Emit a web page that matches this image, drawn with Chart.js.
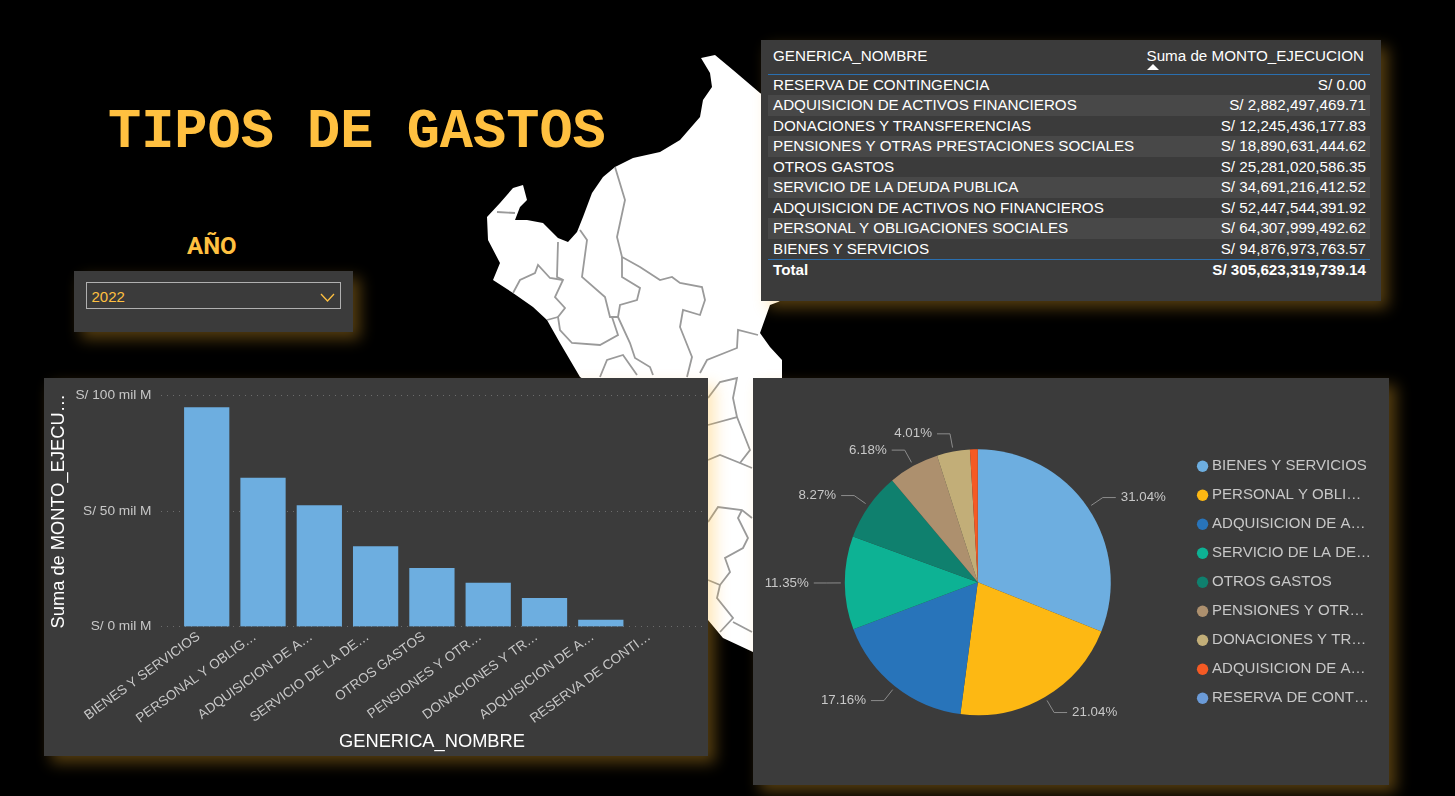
<!DOCTYPE html>
<html>
<head>
<meta charset="utf-8">
<title>Tipos de gastos</title>
<script src="https://cdn.jsdelivr.net/npm/chart.js@4"></script>
<style>
html, body { margin: 0; padding: 0; width: 1455px; height: 796px; overflow: hidden; background: #000; font-family: "Liberation Sans", Arial, sans-serif; }
#map { position: absolute; left: 0; top: 0; filter: blur(0.5px); }
.panel { position: absolute; background: #3b3b3b; box-shadow: 7px 7px 14px rgba(255, 185, 50, 0.33); }
.panel canvas { position: absolute; left: 0; top: 0; }
#barPanel { left: 44px; top: 378px; width: 664px; height: 378px; }
#piePanel { left: 753px; top: 378px; width: 636px; height: 407px; }
#tablePanel { left: 761px; top: 40px; width: 620px; height: 261px; color: #fff; font-size: 15.2px; }
#slicerPanel { left: 74px; top: 271px; width: 279px; height: 61px; }
#title { position: absolute; left: 108px; top: 101px; color: #ffc040; font: bold 55.3px "Liberation Mono", monospace; line-height: 64px; white-space: pre; }
#yearLabel { position: absolute; left: 187px; top: 231px; color: #ffc040; font: bold 24px "Roboto", sans-serif; line-height: 30px; }
#yearBox { position: absolute; left: 11.5px; top: 11px; width: 253px; height: 25px; border: 1.5px solid #b0b0b0; color: #ffc040; font-size: 15px; line-height: 27px; text-indent: 5px; }
#yearBox svg { position: absolute; left: 233px; top: 10px; }
.row { position: absolute; left: 7px; width: 602px; height: 20.5px; line-height: 20.5px; white-space: nowrap; }
.row .name { position: absolute; left: 5px; }
.row .val { position: absolute; right: 4px; }
.striped { background: #484848; }
.rule { position: absolute; left: 7px; width: 602px; height: 1px; background: #2a6fb0; }
</style>
</head>
<body>
<svg id="map" width="1455" height="796">
  <path fill="#fff" d="M701 58 L715 55 L733 70 L760 93 L800 120 L800 290 L778 302 L770 305 L760 333 L770 347 L782 360 L782 420 L753 652 L723 638 L708 620 L690 500 L600 390 L580 377 L560 343 L547 320 L533 307 L513 293 L493 280 L500 263 L488 240 L487 217 L500 203 L513 188 L523 185 L527 200 L520 207 L515 220 L527 220 L543 223 L558 238 L568 242 L577 232 L583 217 L592 193 L603 177 L615 167 L633 158 L660 152 L680 140 L700 117 L703 100 L712 87 L710 73 Z"/>
  <g fill="none" stroke="#9a9a9a" stroke-width="1.8">
    <polyline points="615,167 625,200 617,237 622,257 640,267 660,280 672,277 680,283 702,287 705,300 700,315 683,310 680,327 692,357 687,377"/>
    <polyline points="622,257 622,277 640,288 637,300 620,305 618,317 610,317 605,297 582,277 587,240 580,230"/>
    <polyline points="558,242 557,277 563,280 555,297 565,308 558,317 560,330 572,343 600,345 618,335 612,317"/>
    <polyline points="513,293 520,280 535,273 538,265 550,278 563,280"/>
    <polyline points="547,320 558,317"/>
    <polyline points="618,317 630,343 635,358 650,367 653,375"/>
    <polyline points="600,377 607,360 623,355 637,375"/>
    <polyline points="700,373 707,360 737,348 738,330 758,335"/>
    <polyline points="497,212 515,213"/>
    <polyline points="708,398 720,382 737,378 733,398 737,417 708,425"/>
    <polyline points="737,417 750,450 740,463 720,455 708,460"/>
    <polyline points="740,463 752,468"/>
    <polyline points="708,522 718,507 742,510 752,518"/>
    <polyline points="742,510 738,518 748,538 743,548 725,558 730,572 720,585 708,580"/>
    <polyline points="720,585 717,598 733,618 720,632"/>
    <polyline points="733,622 752,632"/>
  </g>
</svg>

<div id="title">TIPOS DE GASTOS</div>
<div id="yearLabel">AÑO</div>

<div class="panel" id="slicerPanel">
  <div id="yearBox">2022
    <svg width="15" height="9"><polyline points="1,1 7.5,8 14,1" fill="none" stroke="#ffc040" stroke-width="1.3"/></svg>
  </div>
</div>

<div class="panel" id="tablePanel"></div>
<div class="panel" id="barPanel"><canvas id="barChart" width="664" height="378"></canvas></div>
<div class="panel" id="piePanel"><canvas id="pieChart" width="636" height="407"></canvas></div>

<script>
const categories = ['BIENES Y SERVICIOS', 'PERSONAL Y OBLIGACIONES SOCIALES', 'ADQUISICION DE ACTIVOS NO FINANCIEROS', 'SERVICIO DE LA DEUDA PUBLICA', 'OTROS GASTOS', 'PENSIONES Y OTRAS PRESTACIONES SOCIALES', 'DONACIONES Y TRANSFERENCIAS', 'ADQUISICION DE ACTIVOS FINANCIEROS', 'RESERVA DE CONTINGENCIA'];
const amounts = [94876973763.57, 64307999492.62, 52447544391.92, 34691216412.52, 25281020586.35, 18890631444.62, 12245436177.83, 2882497469.71, 0];
const barTickLabels = ['BIENES Y SERVICIOS', 'PERSONAL Y OBLIG…', 'ADQUISICION DE A…', 'SERVICIO DE LA DE…', 'OTROS GASTOS', 'PENSIONES Y OTR…', 'DONACIONES Y TR…', 'ADQUISICION DE A…', 'RESERVA DE CONTI…'];
const legendLabels = ['BIENES Y SERVICIOS', 'PERSONAL Y OBLI…', 'ADQUISICION DE A…', 'SERVICIO DE LA DE…', 'OTROS GASTOS', 'PENSIONES Y OTR…', 'DONACIONES Y TR…', 'ADQUISICION DE A…', 'RESERVA DE CONT…'];
const sliceColors = ['#6daee0', '#fdb813', '#2874ba', '#0db294', '#0f806e', '#ad906e', '#c2ae78', '#f55a24', '#6b9bd8'];
const barColor = '#6daee0';
const yTicks = [0, 50e9, 100e9];
const yTickLabels = ['S/ 0 mil M', 'S/ 50 mil M', 'S/ 100 mil M'];

const labelColor = '#c8c8c8';
const total = amounts.reduce((a, b) => a + b, 0);

function money(v) {
	return 'S/ ' + v.toLocaleString('en-US', { minimumFractionDigits: 2, maximumFractionDigits: 2 });
}

// table, smallest amount first like the report
function buildTable() {
	const panel = document.getElementById('tablePanel');
	let html = '<div class="row" style="top:5px;height:22px;line-height:22px"><span class="name">GENERICA_NOMBRE</span>'
		+ '<span class="val" style="right:6px">Suma de MONTO_EJECUCION</span></div>'
		+ '<svg style="position:absolute;left:386px;top:24px" width="12" height="7"><polygon points="0,6 6,0 12,6" fill="#fff"/></svg>'
		+ '<div class="rule" style="top:34px"></div>';
	for (let i = 0; i < categories.length; i++) {
		const k = categories.length - 1 - i;
		const top = 35 + i * 20.45;
		html += '<div class="row' + (i % 2 ? ' striped' : '') + '" style="top:' + top + 'px"><span class="name">' + categories[k] + '</span><span class="val">' + money(amounts[k]) + '</span></div>';
	}
	html += '<div class="rule" style="top:219px"></div>';
	html += '<div class="row" style="top:219.5px;font-weight:bold"><span class="name">Total</span><span class="val">' + money(total) + '</span></div>';
	panel.innerHTML = html;
}
buildTable();

Chart.defaults.font.family = '"Liberation Sans", Arial, sans-serif';
Chart.defaults.animation = false;

new Chart(document.getElementById('barChart'), {
	type: 'bar',
	data: {
		datasets: [{
			data: amounts.map((v, i) => ({ x: i, y: v })),
			backgroundColor: c => (c.raw.y > 0 ? barColor : 'transparent'),
			barThickness: 44.6
		}]
	},
	options: {
		responsive: false,
		layout: { padding: { top: 16.3, right: 5 } },
		plugins: { legend: { display: false }, tooltip: { enabled: false } },
		scales: {
			x: {
				type: 'linear',
				offset: false,
				min: -0.812,
				max: 8.815,
				afterBuildTicks(scale) { scale.ticks = barTickLabels.map((t, i) => ({ value: i })); },
				afterFit(scale) { scale.height = 129.3; },
				grid: { display: false },
				border: { display: false },
				ticks: {
					autoSkip: false,
					minRotation: 36,
					maxRotation: 36,
					padding: -6,
					labelOffset: -8,
					color: labelColor,
					font: { size: 13.5 },
					callback(v) { return barTickLabels[v]; }
				},
				title: { display: true, text: 'GENERICA_NOMBRE', color: '#fff', font: { size: 18.3 }, padding: { top: 0, bottom: 3.5 } }
			},
			y: {
				min: 0,
				max: 100e9,
				afterBuildTicks(scale) { scale.ticks = yTicks.map(v => ({ value: v })); },
				afterFit(scale) { scale.width = 117; },
				grid: { color: 'rgba(255,255,255,0.25)', drawTicks: false, lineWidth: 1 },
				border: { display: false, dash: [1, 5] },
				ticks: {
					padding: 9.5,
					color: labelColor,
					font: { size: 13.7 },
					callback(v) { return yTickLabels[yTicks.indexOf(v)]; }
				},
				title: { display: true, text: 'Suma de MONTO_EJECU…', color: '#fff', font: { size: 18.3 }, padding: { top: 4, bottom: 0 } }
			}
		}
	}
});

// percentage labels with elbow lines, placed from the arcs themselves
const pieLabels = {
	id: 'pieLabels',
	afterDraw(chart) {
		const ctx = chart.ctx;
		const arcs = chart.getDatasetMeta(0).data;
		ctx.save();
		ctx.font = '13.3px "Liberation Sans"';
		ctx.textBaseline = 'middle';
		arcs.forEach((arc, i) => {
			const pct = amounts[i] / total * 100;
			if (pct < 1) return;
			const a = (arc.startAngle + arc.endAngle) / 2;
			const cos = Math.cos(a), sin = Math.sin(a);
			const r = arc.outerRadius;
			const ex = arc.x + cos * (r + 18), ey = arc.y + sin * (r + 18);
			const dir = cos >= 0 ? 1 : -1;
			ctx.strokeStyle = '#8c8c8c';
			ctx.lineWidth = 1;
			ctx.beginPath();
			ctx.moveTo(arc.x + cos * (r + 4), arc.y + sin * (r + 4));
			ctx.lineTo(ex, ey);
			ctx.lineTo(ex + dir * 13, ey);
			ctx.stroke();
			ctx.fillStyle = labelColor;
			ctx.textAlign = dir > 0 ? 'left' : 'right';
			ctx.fillText(pct.toFixed(2) + '%', ex + dir * 18, ey);
		});
		ctx.restore();
	}
};

new Chart(document.getElementById('pieChart'), {
	type: 'pie',
	data: {
		labels: legendLabels,
		datasets: [{ data: amounts, backgroundColor: sliceColors, borderWidth: 0, radius: 133 }]
	},
	options: {
		responsive: false,
		layout: { padding: { left: 16, right: 8, top: 1.5 } },
		plugins: {
			tooltip: { enabled: false },
			legend: {
				position: 'right',
				labels: {
					usePointStyle: true,
					pointStyle: 'circle',
					boxWidth: 4,
					boxHeight: 8,
					padding: 14,
					color: labelColor,
					font: { size: 15 }
				}
			}
		}
	},
	plugins: [pieLabels]
});
</script>
</body>
</html>
